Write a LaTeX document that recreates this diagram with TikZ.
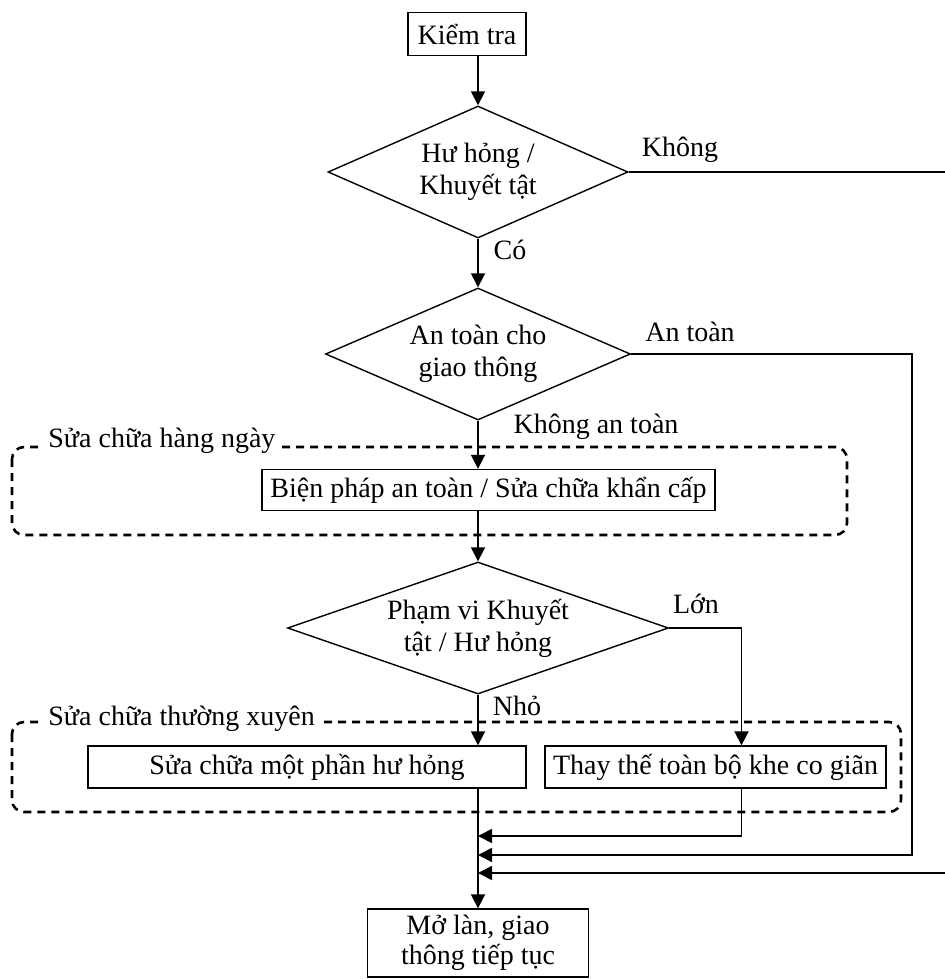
\documentclass[tikz,border=0pt]{standalone}
\usepackage{fontspec}
\setmainfont{Liberation Serif}
\usetikzlibrary{shapes.geometric,arrows.meta,positioning}

\tikzset{
  hop/.style={draw,line width=0.7pt,inner sep=2pt,font=\fontsize{14}{16}\selectfont},
  quyet/.style={diamond,draw,line width=0.7pt,inner sep=0pt,align=center,font=\fontsize{14}{16}\selectfont},
  nhan/.style={font=\fontsize{14}{16}\selectfont,inner sep=0pt},
  mui/.style={line width=0.9pt,-{Triangle[length=7pt,width=7pt]}},
  nhom/.style={draw,line width=1.3pt,dash pattern=on 4pt off 3pt,rounded corners=6pt}
}

\begin{document}
\begin{tikzpicture}[x=0.5pt,y=-0.5pt]
\useasboundingbox (0,0) rectangle (944,979);
\draw[nhom] (12,447) rectangle (847,535);
\draw[nhom] (12,722) rectangle (901,812);
\node[nhan,fill=white,inner sep=2pt,anchor=west] (ngay) at (44,441) {Sửa chữa hàng ngày};
\node[nhan,fill=white,inner sep=2pt,anchor=west] (xuyen) at (44,719) {Sửa chữa thường xuyên};

\node[hop,minimum width=59pt,minimum height=21.5pt] (kiem) at (467,34) {Kiểm tra};
\node[quyet,aspect=2.27,minimum width=150pt,minimum height=66pt] (hong) at (478,172) {Hư hỏng /\\Khuyết tật};
\node[quyet,aspect=2.31,minimum width=152.5pt,minimum height=66pt] (antoan) at (478,354) {An toàn cho\\giao thông};
\node[hop,minimum width=226.5pt,minimum height=20.5pt] (bien) at (488.5,490) {Biện pháp an toàn / Sửa chữa khẩn cấp};
\node[quyet,aspect=2.88,minimum width=190.5pt,minimum height=66pt] (phamvi) at (478,628) {Phạm vi Khuyết\\tật / Hư hỏng};
\node[hop,minimum width=219pt,minimum height=21pt] (mot) at (307,767) {Sửa chữa một phần hư hỏng};
\node[hop,minimum width=170.5pt,minimum height=21pt] (thay) at (715.5,767) {Thay thế toàn bộ khe co giãn};
\node[hop,minimum width=110.5pt,minimum height=34pt,align=center,font=\fontsize{14}{15}\selectfont] (molan) at (478,943) {Mở làn, giao\\thông tiếp tục};

\node[nhan] (lbkhong) at (680,150) {Không};
\node[nhan] (lbco) at (510,250) {Có};
\node[nhan] (lbantoan) at (690,332) {An toàn};
\node[nhan] (lbkhongat) at (596,427) {Không an toàn};
\node[nhan] (lblon) at (696,604) {Lớn};
\node[nhan] (lbnho) at (517,706) {Nhỏ};

\coordinate (j1) at (478,836);
\coordinate (j2) at (478,855);
\coordinate (j3) at (478,873);

\draw[mui] (kiem.south -| hong.north) -- (hong.north);
\draw[mui] (hong.south) -- (antoan.north);
\draw[mui] (antoan.south) -- (antoan.south |- bien.north);
\draw[mui] (bien.south -| phamvi.north) -- (phamvi.north);
\draw[mui] (phamvi.south) -- (phamvi.south |- mot.north);
\draw[mui] (phamvi.east) -| ([xshift=13pt]thay.north);
\draw[mui] ([xshift=13pt]thay.south) |- (j1);
\draw[mui] (antoan.east) -- (912,354) |- (j2);
\draw[mui] (hong.east) -- (960,172) |- (j3);
\draw[mui] (phamvi.south |- mot.south) -- (molan.north);
\end{tikzpicture}
\end{document}
